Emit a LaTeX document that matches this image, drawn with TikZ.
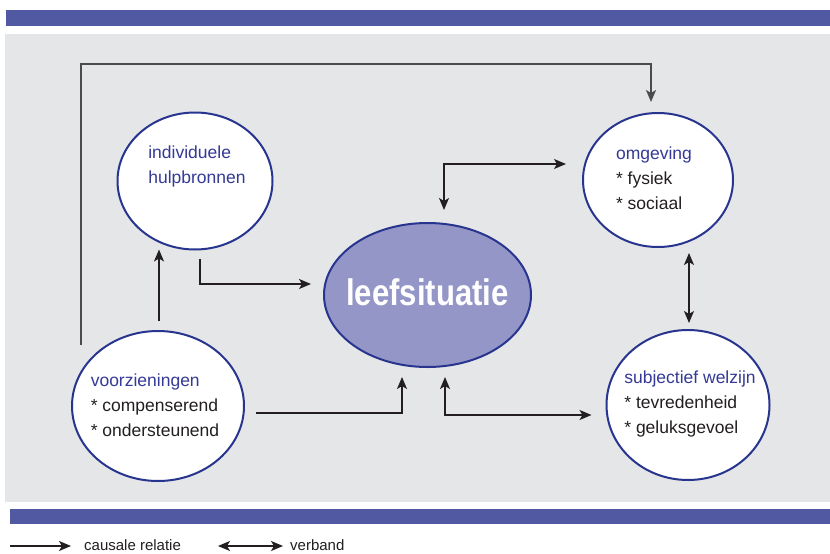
\documentclass[tikz,border=0pt]{standalone}
\usepackage{fontspec}
\setmainfont{Liberation Sans}
\usetikzlibrary{arrows.meta, positioning, shapes.geometric, calc}

\definecolor{balkblauw}{RGB}{82,89,163}
\definecolor{paneelgrijs}{RGB}{229,230,232}
\definecolor{randblauw}{RGB}{40,53,143}
\definecolor{kernpaars}{RGB}{149,150,200}
\definecolor{titelblauw}{RGB}{52,58,150}
\definecolor{tekstzwart}{RGB}{35,31,32}
\definecolor{lijngrijs}{RGB}{75,75,75}

\tikzset{
  tip/.tip={Stealth[length=12pt,width=10pt,inset=3pt]},
  bubble/.style={ellipse, draw=randblauw, line width=2pt, fill=white, inner sep=0pt},
  kern/.style={ellipse, draw=randblauw, line width=2pt, fill=kernpaars, inner sep=0pt},
  bubtext/.style={align=left, text=tekstzwart, inner sep=0pt, font=\fontsize{17.5}{25}\selectfont},
  causal/.style={-tip, line width=1.4pt, draw=tekstzwart},
  verband/.style={tip-tip, line width=1.4pt, draw=tekstzwart},
  legtext/.style={anchor=west, inner sep=0pt, text=tekstzwart, font=\fontsize{15}{15}\selectfont}
}
\newcommand{\titel}[1]{{\color{titelblauw}#1}}

\begin{document}
\begin{tikzpicture}[x=1pt, y=-1pt]
  \useasboundingbox (0,0) rectangle (830,554);
  \fill[white] (0,0) rectangle (830,554);

  % Bars and grey panel
  \fill[balkblauw] (6,10) rectangle (830,26);
  \fill[paneelgrijs] (5,34) rectangle (830,502);
  \fill[balkblauw] (10,509) rectangle (830,524);

  % Ellipses
  \node[bubble, minimum width=155pt, minimum height=137pt] (hulp) at (195,181) {};
  \node[bubble, minimum width=172pt, minimum height=150pt] (voorz) at (158,406) {};
  \node[kern, minimum width=207pt, minimum height=144pt] (leef) at (427.5,295) {};
  \node[bubble, minimum width=150pt, minimum height=134pt] (omg) at (658,180) {};
  \node[bubble, minimum width=163pt, minimum height=150pt] (subj) at (688,405) {};

  % Texts
  \node[bubtext] (hulptxt) at ($(hulp.center)+(2,-15)$)
    {\titel{individuele}\\\titel{hulpbronnen}};
  \node[bubtext] (voorztxt) at ($(voorz.center)+(-3,-1)$)
    {\titel{voorzieningen}\\{}* compenserend\\{}* ondersteunend};
  \node[text=white, inner sep=0pt, font=\fontsize{37}{37}\selectfont\bfseries] (leeftxt)
    at ($(leef.center)+(0,-3)$) {\scalebox{0.84}[1]{leefsituatie}};
  \node[bubtext] (omgtxt) at ($(omg.center)+(-4,-2)$)
    {\titel{omgeving}\\{}* fysiek\\{}* sociaal};
  \node[bubtext] (subjtxt) at ($(subj.center)+(2,-1)$)
    {\titel{subjectief welzijn}\\{}* tevredenheid\\{}* geluksgevoel};

  % Long line from voorzieningen to omgeving
  \coordinate (hoek) at (81,64);
  \draw[causal, draw=lijngrijs, line width=1.6pt] ($(voorz.north)+(-77,15)$) -- (hoek)
    -| ($(omg.north)+(-7,-10)$);

  % Causal arrows
  \draw[causal] ($(hulp.south)+(5,8)$) |- ($(leef.west)+(-12,-11)$);
  \draw[causal] ($(voorz.north)+(1,-9)$) -- ($(hulp.south -| voorz.north)+(1,-1)$);
  \draw[causal] ($(voorz.east)+(11,7)$) -| ($(leef.south)+(-25.5,9)$);

  % Verband arrows
  \draw[verband] ($(leef.north)+(16.5,-12)$) |- ($(omg.west)+(-16,-16)$);
  \draw[verband] ($(leef.south)+(17.5,9)$) |- ($(subj.west)+(-14,10)$);
  \draw[verband] ($(omg.south)+(31,5)$) coordinate (v1) -- ($(v1 |- subj.north)+(0,-6)$);

  % Legend
  \node[legtext] (lcausal) at (84,545) {causale relatie};
  \node[legtext] (lverband) at (290,545) {verband};
  \coordinate (lc1) at (10,546);
  \coordinate (lv1) at (218,546);
  \draw[causal] (lc1) -- ([xshift=-13pt]lcausal.west |- lc1);
  \draw[verband] (lv1) -- ([xshift=-7pt]lverband.west |- lv1);
\end{tikzpicture}
\end{document}
